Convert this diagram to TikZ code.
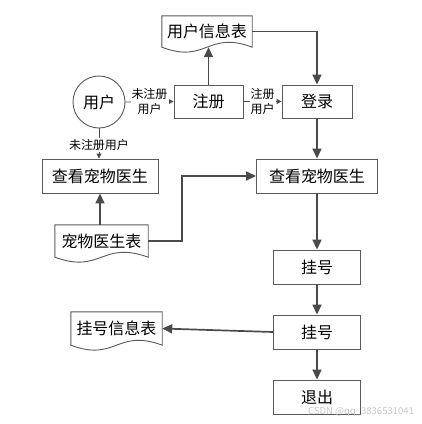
\documentclass[tikz,border=0pt]{standalone}
\usepackage{fontspec}
\setmainfont{Noto Sans CJK SC}
\usetikzlibrary{arrows.meta}
\definecolor{linegray}{HTML}{4A4A4A}
\definecolor{boxgray}{HTML}{5A5A5A}
\definecolor{wmgray}{HTML}{C8C8C8}
\tikzset{
  box/.style={draw=boxgray, line width=0.9pt, fill=white, inner sep=0pt, rectangle,
    font=\fontsize{16}{19}\selectfont},
  circ/.style={draw=boxgray, line width=0.9pt, fill=white, inner sep=0pt, circle,
    minimum size=52pt, font=\fontsize{16}{19}\selectfont},
  doctext/.style={draw=none, inner sep=0pt, rectangle, font=\fontsize{16}{19}\selectfont},
  flow/.style={draw=linegray, line width=1.7pt, -{Triangle[length=10pt,width=9pt]}},
  thinflow/.style={draw=linegray, line width=0.9pt, -{Triangle[length=5pt,width=5pt]}},
  lbl/.style={fill=white, inner sep=1pt, align=center, font=\fontsize{12}{15}\selectfont, text=black}
}
\newcommand{\mydoc}[6]{%
  \node[doctext, minimum width=#4pt, minimum height=#5pt] (#1) at (#2,#3) {};
  \draw[draw=boxgray, line width=0.9pt, fill=white]
    (#1.north west) -- (#1.north east) -- (#1.south east)
    .. controls +(-0.5*#4,-17) and +(0.5*#4,17) .. (#1.south west) -- cycle;
  \node[doctext] at (#2,#3) {#6};
}
\begin{document}
\begin{tikzpicture}[x=1pt,y=-1pt]
\useasboundingbox (0,0) rectangle (422,424);

% nodes
\node[circ] (user) at (99,102) {用户};
\node[box, minimum width=69pt, minimum height=33pt] (reg) at (208.5,101.5) {注册};
\node[box, minimum width=70pt, minimum height=33pt] (login) at (317,101.5) {登录};
\node[box, minimum width=116pt, minimum height=34pt] (viewL) at (100,176) {查看宠物医生};
\node[box, minimum width=121pt, minimum height=34pt] (viewR) at (317,176) {查看宠物医生};
\node[box, minimum width=87pt, minimum height=34pt] (gh1) at (317,267) {挂号};
\node[box, minimum width=87pt, minimum height=34pt] (gh2) at (317,332) {挂号};
\node[box, minimum width=87pt, minimum height=34pt] (exit) at (317,397) {退出};

\mydoc{d1}{207}{31.5}{90}{31}{用户信息表}
\mydoc{d2}{101.5}{241}{93}{32}{宠物医生表}
\mydoc{d3}{116.5}{328.5}{91}{33}{挂号信息表}

% thin labelled connectors
\draw[thinflow] (user.east) -- (reg.west)
  node[lbl, midway] {未注册\\用户};
\draw[thinflow] (reg.east) -- (login.west)
  node[lbl, midway] {注册\\用户};
\draw[thinflow] (user.south) -- (user.south |- viewL.north)
  node[lbl, pos=0.55] {未注册用户};

% thick connectors
\draw[flow] (reg.north) -- (reg.north |- d1.south);
\draw[flow] (d1.east) -- (d1.east -| login.north) -- (login.north);
\draw[flow] (login.south) -- (viewR.north);
\draw[flow] (d2.north -| viewL.south) -- (viewL.south);
\coordinate (bendA) at (182,241);
\coordinate (bendB) at (182,176);
\draw[flow] (d2.east) -- (bendA) -- (bendB) -- (viewR.west);
\draw[flow] (viewR.south) -- (gh1.north);
\draw[flow] (gh1.south) -- (gh2.north);
\draw[flow] (gh2.west) -- (d3.east);
\draw[flow] (gh2.south) -- (exit.north);

% watermark
\node[inner sep=0pt, text=wmgray, font=\fontsize{9.5}{11}\selectfont] (wm) at (361,412) {CSDN @qq\_3836531041};
\end{tikzpicture}
\end{document}
